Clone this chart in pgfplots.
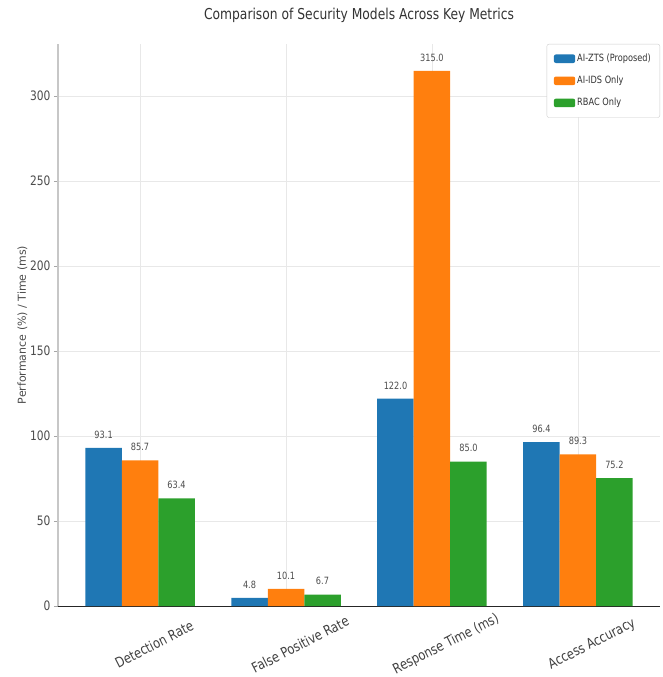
\documentclass[border=0pt]{standalone}
\usepackage{fontspec}
\setmainfont{DejaVu Sans}[FakeStretch=0.82]
\newfontfamily\ylabfont{DejaVu Sans}
\usepackage{pgfplots}
\pgfplotsset{compat=1.18}
\usetikzlibrary{calc}
\definecolor{cA}{HTML}{1F77B4}
\definecolor{cB}{HTML}{FF7F0E}
\definecolor{cC}{HTML}{2CA02C}
\begin{document}
\begin{tikzpicture}
\begin{axis}[
  scale only axis, width=602pt, height=562pt,
  ybar=0pt, bar width=0.25,
  xmin=-0.5625, xmax=3.5625, ymin=0, ymax=330.75,
  /pgf/number format/assume math mode=true,
  axis x line*=bottom, axis y line*=left,
  x axis line style={black!85, line width=1pt},
  y axis line style={black!22, line width=1.4pt},
  xtick={0,1,2,3},
  xticklabels={Detection Rate, False Positive Rate, Response Time (ms), Access Accuracy},
  ytick={0,50,100,150,200,250,300},
  tick align=outside, major tick length=4pt,
  x tick style={draw=none},
  y tick style={black!35},
  grid=major, major grid style={black!9, line width=0.6pt},
  xticklabel style={font=\fontsize{14}{16}\selectfont, text=black!75, rotate=27, anchor=center, yshift=-37pt, xshift=-3pt},
  yticklabel style={font=\fontsize{13}{15}\selectfont, text=black!70},
  ylabel={Performance (\%) / Time (ms)},
  ylabel style={font=\ylabfont\fontsize{11}{13}\selectfont, text=black!70, yshift=-4pt},
  title={Comparison of Security Models Across Key Metrics},
  title style={font=\fontsize{15}{18}\selectfont, text=black!80, at={(0.5,1)}, anchor=south, yshift=12pt},
  legend style={at={(1,1)}, anchor=north east, draw=black!20, rounded corners=2pt,
    font=\fontsize{10}{12}\selectfont, text=black!80, row sep=9pt, inner xsep=7pt, inner ysep=8pt},
  legend cell align=left,
  legend image code/.code={\draw[#1, draw=none] (0cm,-0.15cm) rectangle (0.75cm,0.15cm);},
  nodes near coords={\pgfmathprintnumber[fixed,fixed zerofill,precision=1,assume math mode=true]{\pgfplotspointmeta}},
  every node near coord/.append style={font=\fontsize{10}{12}\selectfont, text=black!70, yshift=6pt},
]
\addplot[fill=cA, draw=none] coordinates {(0,93.1) (1,4.8) (2,122.0) (3,96.4)};
\addlegendentry{AI-ZTS (Proposed)}
\addplot[fill=cB, draw=none] coordinates {(0,85.7) (1,10.1) (2,315.0) (3,89.3)};
\addlegendentry{AI-IDS Only}
\addplot[fill=cC, draw=none] coordinates {(0,63.4) (1,6.7) (2,85.0) (3,75.2)};
\addlegendentry{RBAC Only}
\coordinate (ll) at (rel axis cs:0,0);
\coordinate (ur) at (rel axis cs:1,1);
\end{axis}
\pgfresetboundingbox
\path ($(ll)+(-58pt,-71pt)$) rectangle ($(ur)+(2pt,44pt)$);
\end{tikzpicture}
\end{document}
